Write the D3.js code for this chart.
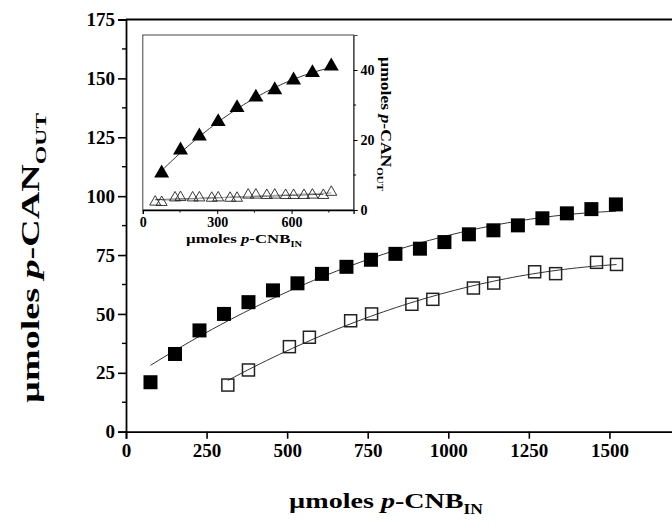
<!DOCTYPE html>
<html>
<head>
<meta charset="utf-8">
<script src="https://cdn.jsdelivr.net/npm/d3@7"></script>
<style>
  body { margin: 0; background: #fff; }
  svg { display: block; }
  text { font-family: "Liberation Serif", "Times New Roman", serif; font-weight: bold; fill: #000; }
</style>
</head>
<body>
<svg id="chart" width="672" height="528"></svg>
<script>
// Main panel: p-CAN recovered against p-CNB fed (µmoles)
const feedFilled = [76, 152, 228, 304, 380, 456, 532, 608, 684, 760, 836, 912, 988, 1064, 1140, 1216, 1292, 1368, 1444, 1520];
const canFilled  = [21, 33, 43, 50, 55, 60, 63, 67, 70, 73, 75.5, 77.7, 80.5, 83.8, 85.5, 87.6, 90.6, 92.7, 94.5, 96.5];
const feedOpen   = [316, 380, 507, 569, 697, 762, 887, 952, 1078, 1141, 1268, 1333, 1460, 1522];
const canOpen    = [19.8, 26.2, 36.1, 40.1, 47.1, 50, 54.1, 56.2, 61, 63.1, 67.9, 67.1, 71.9, 71.0];
const mainXTicks = [0, 250, 500, 750, 1000, 1250, 1500];
const mainYTicks = [0, 25, 50, 75, 100, 125, 150, 175];

// Inset panel
const insetFeed       = [76, 152, 228, 304, 380, 456, 532, 608, 684, 760];
const insetCanFilled  = [10.5, 17.1, 21.1, 25.2, 29.2, 32.2, 34.3, 37.1, 39.2, 41.1];
const insetFeedOpenA  = [50, 130, 201, 278, 352, 425, 500, 576, 650, 728];
const insetCanOpenA   = [2.3, 3.5, 3.5, 3.4, 3.4, 4.3, 4.2, 4.2, 4.2, 4.2];
const insetCanOpenB   = [2.2, 3.6, 3.5, 3.5, 3.4, 4.3, 4.3, 4.2, 4.3, 5.1];
const insetXTicks = [0, 300, 600];
const insetXMinor = [150, 450, 750];
const insetYTicks = [0, 20, 40];
const insetYMinor = [10, 30];

const svg = d3.select("#chart");

// least-squares polynomial (degree 1 or 2) through a series
function polyFit(xs, ys, deg) {
  const n = deg + 1;
  const A = Array.from({length: n}, () => new Array(n + 1).fill(0));
  xs.forEach((x, k) => {
    for (let i = 0; i < n; i++) {
      for (let j = 0; j < n; j++) A[i][j] += Math.pow(x, i + j);
      A[i][n] += ys[k] * Math.pow(x, i);
    }
  });
  for (let c = 0; c < n; c++) {
    let p = c;
    for (let r = c + 1; r < n; r++) if (Math.abs(A[r][c]) > Math.abs(A[p][c])) p = r;
    [A[c], A[p]] = [A[p], A[c]];
    for (let r = 0; r < n; r++) {
      if (r === c) continue;
      const f = A[r][c] / A[c][c];
      for (let k = c; k <= n; k++) A[r][k] -= f * A[c][k];
    }
  }
  const coef = A.map((row, i) => row[n] / row[i]);
  return x => coef.reduce((s, c, i) => s + c * Math.pow(x, i), 0);
}

function fitPath(g, xs, ys, deg, sx, sy, color, width) {
  const f = polyFit(xs, ys, deg);
  const lo = d3.min(xs), hi = d3.max(xs);
  const pts = d3.range(0, 61).map(i => lo + (hi - lo) * i / 60);
  g.append("path")
    .attr("d", d3.line().x(d => sx(d)).y(d => sy(f(d)))(pts))
    .attr("fill", "none").attr("stroke", color).attr("stroke-width", width);
}

// horizontal scale factor that brings a label to a given length
function stretchTo(textSel, len) {
  const w = textSel.node().getComputedTextLength();
  return len / w;
}

function label(g, parts, size) {
  const t = g.append("text").attr("font-size", size);
  parts.forEach(p => {
    const s = t.append("tspan").text(p.t);
    if (p.i) s.attr("font-style", "italic");
    if (p.sub) s.attr("font-size", size * 0.62).attr("dy", size * 0.28);
  });
  return t;
}

// ---------- main panel ----------
const x = d3.scaleLinear().domain([0, 1750]).range([126, 690]);
const y = d3.scaleLinear().domain([0, 175]).range([431.7, 19.5]);

const main = svg.append("g");

// frame (top and right edges)
main.append("path")
  .attr("d", `M${x(0)},${y(175)}H${x(1750)}V${y(0)}`)
  .attr("fill", "none").attr("stroke", "#000").attr("stroke-width", 1.8);

const yAxis = main.append("g").attr("transform", `translate(${x(0)},0)`)
  .call(d3.axisLeft(y).tickValues(mainYTicks).tickSize(8).tickPadding(3).tickFormat(d3.format("d")));
yAxis.selectAll("line").attr("stroke-width", 1.6);
yAxis.select(".domain").attr("stroke-width", 1.8);
yAxis.attr("font-family", null).attr("font-size", null);
yAxis.selectAll("text").attr("font-size", 19);
yAxis.selectAll(".minor").data(mainYTicks.slice(0, -1).map(v => v + 12.5)).enter()
  .append("line").attr("class", "minor")
  .attr("x1", -4).attr("x2", 0).attr("y1", d => y(d)).attr("y2", d => y(d))
  .attr("stroke", "#000").attr("stroke-width", 1.4);

const xAxis = main.append("g").attr("transform", `translate(0,${y(0)})`)
  .call(d3.axisBottom(x).tickValues(mainXTicks).tickSize(7).tickPadding(5).tickFormat(d3.format("d")));
xAxis.selectAll("line").attr("stroke-width", 1.6);
xAxis.select(".domain").attr("stroke-width", 1.8);
xAxis.attr("font-family", null).attr("font-size", null);
xAxis.selectAll("text").attr("font-size", 19);

// fitted curves
fitPath(main, feedFilled, canFilled, 2, x, y, "#333", 1);
fitPath(main, feedOpen, canOpen, 2, x, y, "#333", 1);

// filled squares
main.selectAll(".sqF").data(feedFilled).enter().append("rect")
  .attr("x", d => x(d) - 7).attr("y", (d, i) => y(canFilled[i]) - 7)
  .attr("width", 14).attr("height", 14).attr("fill", "#000");

// open squares
main.selectAll(".sqO").data(feedOpen).enter().append("rect")
  .attr("x", d => x(d) - 6).attr("y", (d, i) => y(canOpen[i]) - 6)
  .attr("width", 12).attr("height", 12)
  .attr("fill", "none").attr("stroke", "#222").attr("stroke-width", 1.5);

// axis titles
const xt = label(main, [{t: "\u00b5moles "}, {t: "p", i: true}, {t: "-CNB"}, {t: "IN", sub: true}], 22)
  .attr("text-anchor", "middle");
const xs = stretchTo(xt, 194);
xt.attr("transform", `translate(386,508) scale(${xs},1)`);

const yt = label(main, [{t: "\u00b5moles "}, {t: "p", i: true}, {t: "-CAN"}, {t: "OUT", sub: true}], 25)
  .attr("text-anchor", "middle");
const ys = stretchTo(yt, 290);
yt.attr("transform", `translate(39,258) rotate(-90) scale(${ys},1)`);

// ---------- inset ----------
const ix = d3.scaleLinear().domain([0, 850]).range([142.8, 353.6]);
const iy = d3.scaleLinear().domain([0, 50]).range([210, 35]);
const inset = svg.append("g");

inset.append("rect")
  .attr("x", ix(0)).attr("y", iy(50)).attr("width", ix(850) - ix(0)).attr("height", iy(0) - iy(50))
  .attr("fill", "#fff").attr("stroke", "#444").attr("stroke-width", 1);

const ixAxis = inset.append("g").attr("transform", `translate(0,${iy(0)})`)
  .call(d3.axisBottom(ix).tickValues(insetXTicks).tickSize(4).tickPadding(3).tickFormat(d3.format("d")));
ixAxis.attr("font-family", null).attr("font-size", null);
ixAxis.selectAll("text").attr("font-size", 14);
ixAxis.select(".domain").attr("stroke", "#000").attr("stroke-width", 1.3);
ixAxis.selectAll(".minor").data(insetXMinor).enter().append("line").attr("class", "minor")
  .attr("x1", d => ix(d)).attr("x2", d => ix(d)).attr("y1", 0).attr("y2", 2.5)
  .attr("stroke", "#000");

const iyAxis = inset.append("g").attr("transform", `translate(${ix(850)},0)`)
  .call(d3.axisRight(iy).tickValues(insetYTicks).tickSize(4).tickPadding(3).tickFormat(d3.format("d")));
iyAxis.attr("font-family", null).attr("font-size", null);
iyAxis.selectAll("text").attr("font-size", 14);
iyAxis.select(".domain").attr("stroke", "#444").attr("stroke-width", 1);
iyAxis.selectAll(".minor").data(insetYMinor).enter().append("line").attr("class", "minor")
  .attr("x1", 0).attr("x2", 2.5).attr("y1", d => iy(d)).attr("y2", d => iy(d))
  .attr("stroke", "#000");

fitPath(inset, insetFeed, insetCanFilled, 2, ix, iy, "#333", 1);
fitPath(inset, insetFeedOpenA, insetCanOpenA, 1, ix, iy, "#222", 1);
fitPath(inset, insetFeed, insetCanOpenB, 1, ix, iy, "#aaa", 1.2);

const triBig = d3.symbol().type(d3.symbolTriangle).size(97);
const triSmall = d3.symbol().type(d3.symbolTriangle).size(52);

inset.selectAll(".triF").data(insetFeed).enter().append("path")
  .attr("d", triBig).attr("transform", (d, i) => `translate(${ix(d)},${iy(insetCanFilled[i])})`)
  .attr("fill", "#000");
inset.selectAll(".triA").data(insetFeedOpenA).enter().append("path")
  .attr("d", triSmall).attr("transform", (d, i) => `translate(${ix(d)},${iy(insetCanOpenA[i])})`)
  .attr("fill", "none").attr("stroke", "#222").attr("stroke-width", 0.9);
inset.selectAll(".triB").data(insetFeed).enter().append("path")
  .attr("d", triSmall).attr("transform", (d, i) => `translate(${ix(d)},${iy(insetCanOpenB[i])})`)
  .attr("fill", "none").attr("stroke", "#222").attr("stroke-width", 0.9);

const ixt = label(inset, [{t: "\u00b5moles "}, {t: "p", i: true}, {t: "-CNB"}, {t: "IN", sub: true}], 13)
  .attr("text-anchor", "middle");
const ixs = stretchTo(ixt, 116);
ixt.attr("transform", `translate(244,243) scale(${ixs},1)`);

const iyt = label(inset, [{t: "\u00b5moles "}, {t: "p", i: true}, {t: "-CAN"}, {t: "OUT", sub: true}], 14)
  .attr("text-anchor", "middle");
const iys = stretchTo(iyt, 134);
iyt.attr("transform", `translate(381,124) rotate(90) scale(${iys},1)`);
</script>
</body>
</html>
